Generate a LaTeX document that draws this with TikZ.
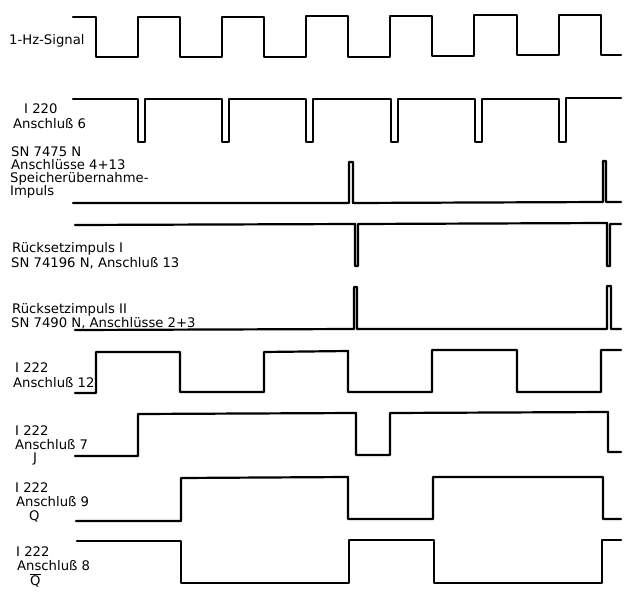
\documentclass[tikz,border=0pt]{standalone}
\usepackage{fontspec}
\setmainfont{DejaVu Sans}
\begin{document}
\begin{tikzpicture}[x=1pt,y=-1pt,
  wave/.style={line width=2.2pt, line join=round, line cap=round},
  lbl/.style={anchor=base west, inner sep=0pt, font=\fontsize{13.2}{15}\selectfont}]
\useasboundingbox (0,0) rectangle (633,600);

% 1-Hz-Signal
\draw[wave] (73,17) -- (96,17) -- (96,57) -- (138,57) -- (138,17) -- (180,17) -- (180,57)
  -- (222,57) -- (222,17) -- (264,17) -- (264,57) -- (306,57) -- (306,16) -- (348,16)
  -- (348,57) -- (390,57) -- (390,16) -- (432,16) -- (432,56) -- (474,56) -- (474,15)
  -- (517,15) -- (517,55) -- (559,55) -- (559,15) -- (601,15) -- (601,55) -- (621,55);

% I 220 Anschluss 6
\draw[wave] (73,99) -- (138,99) -- (138,142) -- (145,142) -- (145,99)
  -- (222,99) -- (222,142) -- (229,142) -- (229,99)
  -- (306,99) -- (306,142) -- (313,142) -- (313,99)
  -- (391,99) -- (391,142) -- (398,142) -- (398,99)
  -- (475,99) -- (475,142) -- (482,142) -- (482,99)
  -- (559,99) -- (559,142) -- (566,142) -- (566,98) -- (621,98);

% Speicheruebernahme-Impuls
\draw[wave] (73,203) -- (349,203) -- (349,162) -- (353,162) -- (353,203)
  -- (603,202) -- (603,161) -- (606,161) -- (606,202) -- (621,202);

% Ruecksetzimpuls I
\draw[wave] (75,225) -- (355,224) -- (355,266) -- (358,266) -- (358,224)
  -- (607,223) -- (607,266) -- (610,266) -- (610,224) -- (621,224);

% Ruecksetzimpuls II
\draw[wave] (75,330) -- (354,329) -- (354,287) -- (357,287) -- (357,329)
  -- (607,329) -- (607,286) -- (611,286) -- (611,329) -- (621,329);

% I 222 Anschluss 12
\draw[wave] (75,393) -- (96,393) -- (96,352) -- (180,352) -- (180,392) -- (264,392)
  -- (264,352) -- (348,351) -- (348,392) -- (432,392) -- (432,350) -- (517,350)
  -- (517,392) -- (601,392) -- (601,350) -- (621,350);

% I 222 Anschluss 7 (J)
\draw[wave] (75,456) -- (138,456) -- (138,414) -- (356,413) -- (356,455) -- (390,455)
  -- (390,413) -- (608,412) -- (608,452) -- (621,452);

% I 222 Anschluss 9 (Q)
\draw[wave] (76,521) -- (181,521) -- (181,478) -- (348,477) -- (348,519) -- (433,519)
  -- (433,477) -- (603,477) -- (603,519) -- (621,519);

% I 222 Anschluss 8 (Q quer)
\draw[wave] (77,541) -- (181,541) -- (181,583) -- (349,583) -- (349,540) -- (434,540)
  -- (434,583) -- (602,583) -- (602,540) -- (621,540);

% Labels
\node[lbl] (l1) at (9,44) {1-Hz-Signal};
\node[lbl] (l2a) at (24,113) {I 220};
\node[lbl] (l2b) at (13,128) {Anschluß 6};
\node[lbl] (l3a) at (11,156) {SN 7475 N};
\node[lbl] (l3b) at (11,169) {Anschlüsse 4+13};
\node[lbl] (l3c) at (10,182) {Speicherübernahme-};
\node[lbl] (l3d) at (10,195) {Impuls};
\node[lbl] (l4a) at (12,252) {Rücksetzimpuls I};
\node[lbl] (l4b) at (11,267) {SN 74196 N, Anschluß 13};
\node[lbl] (l5a) at (12,313) {Rücksetzimpuls II};
\node[lbl] (l5b) at (11,327) {SN 7490 N, Anschlüsse 2+3};
\node[lbl] (l6a) at (15,372) {I 222};
\node[lbl] (l6b) at (13,387) {Anschluß 12};
\node[lbl] (l7a) at (15,435) {I 222};
\node[lbl] (l7b) at (15,449) {Anschluß 7};
\node[lbl] (l7c) at (33,462) {J};
\node[lbl] (l8a) at (15,492) {I 222};
\node[lbl] (l8b) at (16,506) {Anschluß 9};
\node[lbl] (l8c) at (29,520) {Q};
\node[lbl] (l9a) at (16,556) {I 222};
\node[lbl] (l9b) at (17,570) {Anschluß 8};
\node[lbl] (l9c) at (30,585) {$\overline{\hbox{Q}}$};
\end{tikzpicture}
\end{document}
